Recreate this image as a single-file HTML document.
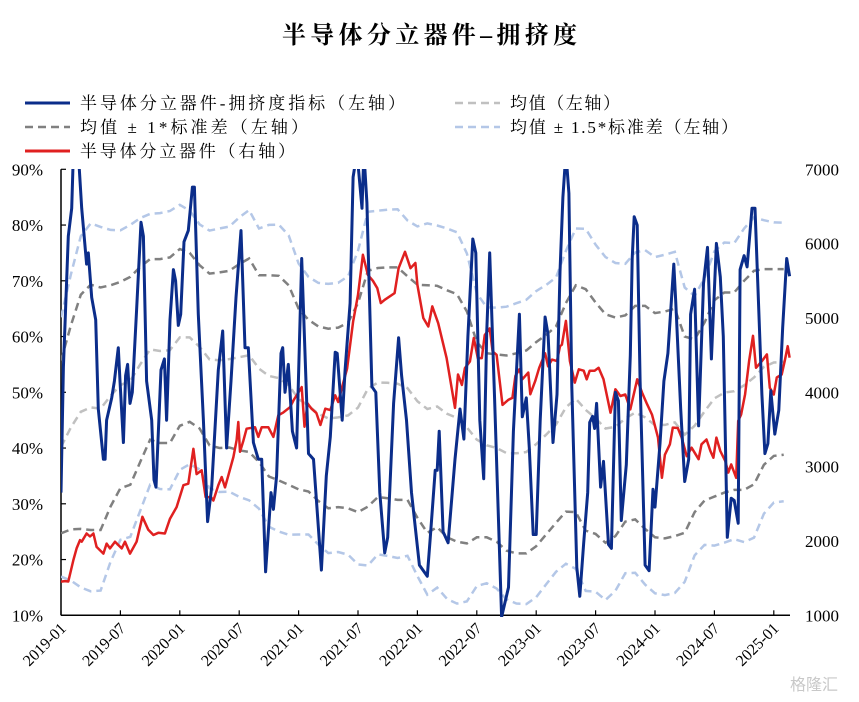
<!DOCTYPE html>
<html><head><meta charset="utf-8">
<style>
html,body{margin:0;padding:0;background:#fff;}
svg{display:block;font-family:"Liberation Serif","Noto Serif CJK SC",serif;}
</style></head>
<body>
<svg id="chart" width="859" height="702" viewBox="0 0 859 702" xmlns="http://www.w3.org/2000/svg">
<text x="282" y="43" textLength="295" lengthAdjust="spacing" font-size="24" font-weight="bold" font-family="'Liberation Serif','Noto Serif CJK SC',serif">半导体分立器件–拥挤度</text>
<g font-size="17" font-family="'Liberation Serif','Noto Serif CJK SC',serif">
 <g><line x1="25" y1="103" x2="70" y2="103" stroke="#0b2d8a" stroke-width="3"/><text x="80" y="109" textLength="325" lengthAdjust="spacing">半导体分立器件-拥挤度指标（左轴）</text></g>
 <g><line x1="455" y1="103" x2="500" y2="103" stroke="#c0c0c0" stroke-width="2.5" stroke-dasharray="8,5"/><text x="510" y="109" textLength="110" lengthAdjust="spacing">均值（左轴）</text></g>
 <g><line x1="25" y1="127" x2="70" y2="127" stroke="#808080" stroke-width="2.5" stroke-dasharray="8,5"/><text x="80" y="133" textLength="228" lengthAdjust="spacing">均值 ± 1*标准差（左轴）</text></g>
 <g><line x1="455" y1="127" x2="500" y2="127" stroke="#b4c7e7" stroke-width="2.5" stroke-dasharray="8,5"/><text x="510" y="133" textLength="228" lengthAdjust="spacing">均值 ± 1.5*标准差（左轴）</text></g>
 <g><line x1="25" y1="151" x2="70" y2="151" stroke="#e02020" stroke-width="3"/><text x="80" y="157" textLength="215" lengthAdjust="spacing">半导体分立器件（右轴）</text></g>
</g>
<defs><clipPath id="plotclip"><rect x="61" y="169" width="731" height="448"/></clipPath></defs>
<g id="axes"></g>
<g id="series" clip-path="url(#plotclip)"></g>
<text x="790" y="690" font-size="16" fill="#c8c8c8" font-family="'Liberation Sans','Noto Sans CJK SC',sans-serif">格隆汇</text>
</svg>
<script>
// ---- data ----
const xTickLabels = ["2019-01","2019-07","2020-01","2020-07","2021-01","2021-07","2022-01","2022-07","2023-01","2023-07","2024-01","2024-07","2025-01"];
const leftTicks = [10,20,30,40,50,60,70,80,90];
const rightTicks = [1000,2000,3000,4000,5000,6000,7000];
// months since 2019-01
const crowdMonths = [0,0.24,0.74,1.08,1.25,1.75,2.09,2.59,2.76,3.1,3.5,3.77,4.28,4.45,4.61,5.12,5.39,5.79,5.96,6.3,6.53,6.73,6.97,7.2,7.64,8.08,8.32,8.65,9.16,9.39,9.6,10.1,10.44,10.67,11.01,11.35,11.58,11.85,12.09,12.42,12.86,13.27,13.47,13.87,14.38,14.81,15.22,15.89,16.33,16.73,17.17,17.68,18.18,18.59,18.92,19.43,19.93,20.27,20.67,21.21,21.45,21.78,22.22,22.39,22.63,22.96,23.37,23.8,24.31,25.0,25.5,26.3,26.8,27.2,27.7,27.9,28.4,28.7,29.2,29.5,29.9,30.4,30.6,30.9,31.4,31.8,32.2,32.7,33.0,33.6,34.1,34.4,34.9,35.4,36.2,37.0,37.3,37.8,38.0,38.2,38.6,39.1,39.8,40.3,40.7,41.1,41.6,41.9,42.3,42.7,43.0,43.3,43.8,44.5,45.2,45.7,46.3,46.6,47.0,47.3,47.7,48.0,48.4,48.9,49.2,49.7,50.1,50.4,50.7,51.0,51.3,51.6,52.1,52.4,52.8,53.2,53.4,53.7,53.9,54.1,54.5,54.8,55.3,55.6,56.0,56.3,56.6,57.1,57.5,57.7,57.9,58.2,58.5,59.0,59.4,59.8,60.0,60.5,60.9,61.3,61.9,62.1,62.6,63.0,63.4,63.6,64.0,64.4,64.9,65.3,65.7,66.2,66.6,66.9,67.3,67.7,68.0,68.4,68.6,69.0,69.3,69.8,70.1,70.4,70.8,71.1,71.4,71.7,72.1,72.5,72.9,73.3,73.6];
const crowdValues = [32,54.5,78,83,93,93,83,73,75,67,63,47,38,38,45,49,52,58,52,41,53,55,48,50,64.8,80.5,78,52,45,34.3,33,54,56,45,63,72,70,62,64,77,79,86.8,86.8,64,45,26.8,33,54,61,40,52,67,79,58,58,41,38,38,17.8,32,29,35,57,58,50,55,43,40,74,39,38,18.1,35,42,57.2,57,45,54,66,88.6,93,83,93,84,51,50,32,21.2,24,48,59.8,53,45,32,19,17,24,36,36,43,25,23,38,47,41.6,60,77.5,75,45,34.5,60.6,75,48.8,9.7,15,43,64,45.6,49,40,24.5,24.5,45,63.5,60.3,41,49.6,71.6,85,93,85.7,51,18.6,13.4,23,32,44.6,45.7,43.5,48,33,37.6,22.7,22,50,48.5,27,37,56.6,74,81.5,80,52,19,18,32.6,29.4,40.8,52,57,73,66,47,34,38,64,68.5,44,69.5,76,56,76.7,70.7,60,24,31,30.6,26.5,72,74.5,72.5,83,83,68.5,49.6,39,40.8,50.3,42.5,46.8,61.7,74,70.8];
const priceMonths = [0,0.4,0.74,1.25,1.58,1.92,2.09,2.59,2.93,3.27,3.6,4.28,4.61,4.95,5.45,6.13,6.46,6.97,7.64,8.22,8.82,9.33,9.83,10.5,11.01,11.68,12.36,12.86,13.37,13.7,14.21,14.61,15.15,15.39,15.89,16.23,16.57,16.9,17.41,17.74,17.91,18.08,18.42,18.75,19.6,19.93,20.27,20.94,21.45,21.95,22.46,23.13,23.47,24.31,24.6,24.9,25.3,25.8,26.2,26.7,27.2,27.7,28.0,28.35,28.9,29.5,30.0,30.5,31.0,31.5,31.95,32.3,32.7,33.7,34.1,34.75,35.3,35.8,36.0,36.6,37.1,37.5,38.1,38.95,39.8,40.1,40.5,40.8,41.3,41.7,42.1,42.5,42.8,43.3,43.6,44.0,44.6,45.2,45.6,45.9,46.3,46.6,47.2,47.4,47.9,48.3,48.9,49.2,49.6,50.1,50.4,50.6,51.0,51.4,51.9,52.3,52.8,53.1,53.4,53.9,54.3,54.8,55.5,56.0,56.5,57.0,57.5,58.2,58.7,59.2,59.7,60.3,60.7,61.0,61.5,61.8,62.3,62.7,63.2,63.7,64.4,64.7,65.2,65.6,65.9,66.2,66.6,67.1,67.4,67.7,68.2,68.4,68.7,69.1,69.5,69.9,70.2,70.8,71.3,71.6,72.0,72.3,72.8,73.1,73.4,73.6];
const priceValues = [1452,1460,1455,1744,1900,2012,1990,2100,2060,2100,1920,1830,1965,1900,1990,1900,1990,1830,1990,2325,2150,2080,2110,2100,2300,2455,2750,2770,3240,2900,2950,2590,2590,2545,2750,2860,2720,2880,3130,3355,3600,3200,3350,3510,3530,3400,3530,3530,3400,3690,3730,3800,3890,4070,3537,3850,3780,3720,3560,3780,3760,3960,3870,4050,4320,4950,5310,5850,5580,5500,5400,5200,5245,5335,5670,5890,5670,5740,5445,5000,4885,5155,4930,4460,3790,4240,4100,4325,4415,4730,4460,4460,4770,4860,4550,4505,3830,3900,3925,4220,4310,4175,4265,3975,4150,4330,4525,4350,4440,4420,4620,4640,4960,4420,4130,4310,4290,4175,4290,4290,4330,4175,3725,4040,3950,3970,3770,4175,3995,3840,3700,3390,2850,3160,3300,3525,3520,3390,3140,3255,3100,3300,3365,3210,3120,3390,3210,3075,2920,3030,2850,3615,3700,3975,4420,4760,4330,4420,4510,4060,3970,4200,4240,4420,4620,4465];
// rolling mean ± 1 std bands, monthly
const plusOneSigma = [55.7,62,67.5,69.3,68.8,69.2,69.8,70.7,72.5,73.9,73.9,74.2,75.7,75,72.8,71.3,71.5,71.8,73,74,71,71,70.9,69.2,65,63,61.8,61.4,61.6,62.5,66,71.8,72.3,72.4,72.4,70.8,69.3,69.2,69.1,68.3,67.6,64.5,59,57,56.8,56.6,57,57.5,59,60.3,61.8,66,69.2,68.5,66.1,64,63.4,63.8,65.5,65.5,64.2,64.5,65,60,59.5,62.5,66.5,67.9,67.9,70,71.8,72.1,72.1,72.1];
const minusOneSigma = [24.7,25.4,25.5,25.3,25.3,29.5,32.8,33.4,37.5,41.5,40.9,40.9,44,44.7,43.5,40.5,40,40.1,39.6,39.3,37.5,34.9,34.2,33.4,32.6,32.2,30.5,29.2,29.4,29.2,28.5,29.5,31.2,31,30.7,30.7,27.5,24.8,25.8,24,23.2,22.9,24,24,23.2,21.6,21.1,21.1,22.4,24.5,26.6,28.6,28.5,25.2,24.6,23,24.2,26.8,27.2,25.5,24,23.8,24.2,24.8,28.5,30.6,31.3,32,32.5,32.5,33.5,37,38.6,38.8];

// ---- scales ----
const X0=61, PX_PER_MONTH=9.9, PLOT_RIGHT=790, YTOP=169.3, YBOT=615.3;
const xs = m => X0 + m*PX_PER_MONTH;
const yl = v => YBOT - (v-10)/80*(YBOT-YTOP);
const yr = v => YBOT - (v-1000)/6000*(YBOT-YTOP);
const NS="http://www.w3.org/2000/svg";
const axes=document.getElementById('axes'), series=document.getElementById('series');
function mk(tag, attrs, parent){const e=document.createElementNS(NS,tag);for(const k in attrs)e.setAttribute(k,attrs[k]);parent.appendChild(e);return e;}

const la = mk('line',{x1:X0,y1:YTOP,x2:X0,y2:YBOT,stroke:'#000','stroke-width':1.5},axes);


const xa = mk('line',{x1:X0,y1:YBOT,x2:PLOT_RIGHT,y2:YBOT,stroke:'#000','stroke-width':1.5},axes);


leftTicks.forEach(v=>{
  const t=mk('line',{x1:X0,y1:yl(v),x2:X0+5,y2:yl(v),stroke:'#000','stroke-width':1.2},axes);
  
  
  const l=mk('text',{x:X0-18,y:yl(v)+6,'text-anchor':'end','font-size':17},axes);
  l.textContent=v+'%';
  
  
});
rightTicks.forEach(v=>{
  const l=mk('text',{x:805,y:yr(v)+6,'font-size':17},axes);
  l.textContent=v;
  
  
});
xTickLabels.forEach((s,i)=>{
  const x=xs(i*6);
  const t=mk('line',{x1:x,y1:YBOT,x2:x,y2:YBOT-5,stroke:'#000','stroke-width':1.2},axes);
  
  
  const l=mk('text',{x:x+6,y:YBOT+14,'text-anchor':'end','font-size':16,transform:`rotate(-45 ${x+6} ${YBOT+14})`},axes);
  l.textContent=s;
  
  
});

function path(ms, vals, yf){return ms.map((m,i)=>(i?'L':'M')+xs(m).toFixed(1)+','+yf(vals[i]).toFixed(1)).join('');}
const bandMonths = plusOneSigma.map((_,i)=>i);
const meanVals = plusOneSigma.map((u,i)=>(u+minusOneSigma[i])/2);
const sigVals = plusOneSigma.map((u,i)=>(u-minusOneSigma[i])/2);
const up15 = meanVals.map((m,i)=>m+1.5*sigVals[i]);
const lo15 = meanVals.map((m,i)=>m-1.5*sigVals[i]);
const dash={fill:'none','stroke-width':2.5,'stroke-dasharray':'8,5'};
[['upper-1.5-sigma-line',up15,'#b4c7e7'],['lower-1.5-sigma-line',lo15,'#b4c7e7'],
 ['upper-1-sigma-line',plusOneSigma,'#808080'],['lower-1-sigma-line',minusOneSigma,'#808080'],
 ['mean-line',meanVals,'#c0c0c0']].forEach(([n,v,c])=>{
  const p=mk('path',Object.assign({d:path(bandMonths,v,yl),stroke:c},dash),series);
  
  
});
const pr=mk('path',{d:path(priceMonths,priceValues,yr),stroke:'#e02020','stroke-width':2.5,fill:'none','stroke-linejoin':'round'},series);


const cr=mk('path',{d:path(crowdMonths,crowdValues,yl),stroke:'#0b2d8a','stroke-width':3,fill:'none','stroke-linejoin':'round'},series);


</script>
</body></html>
